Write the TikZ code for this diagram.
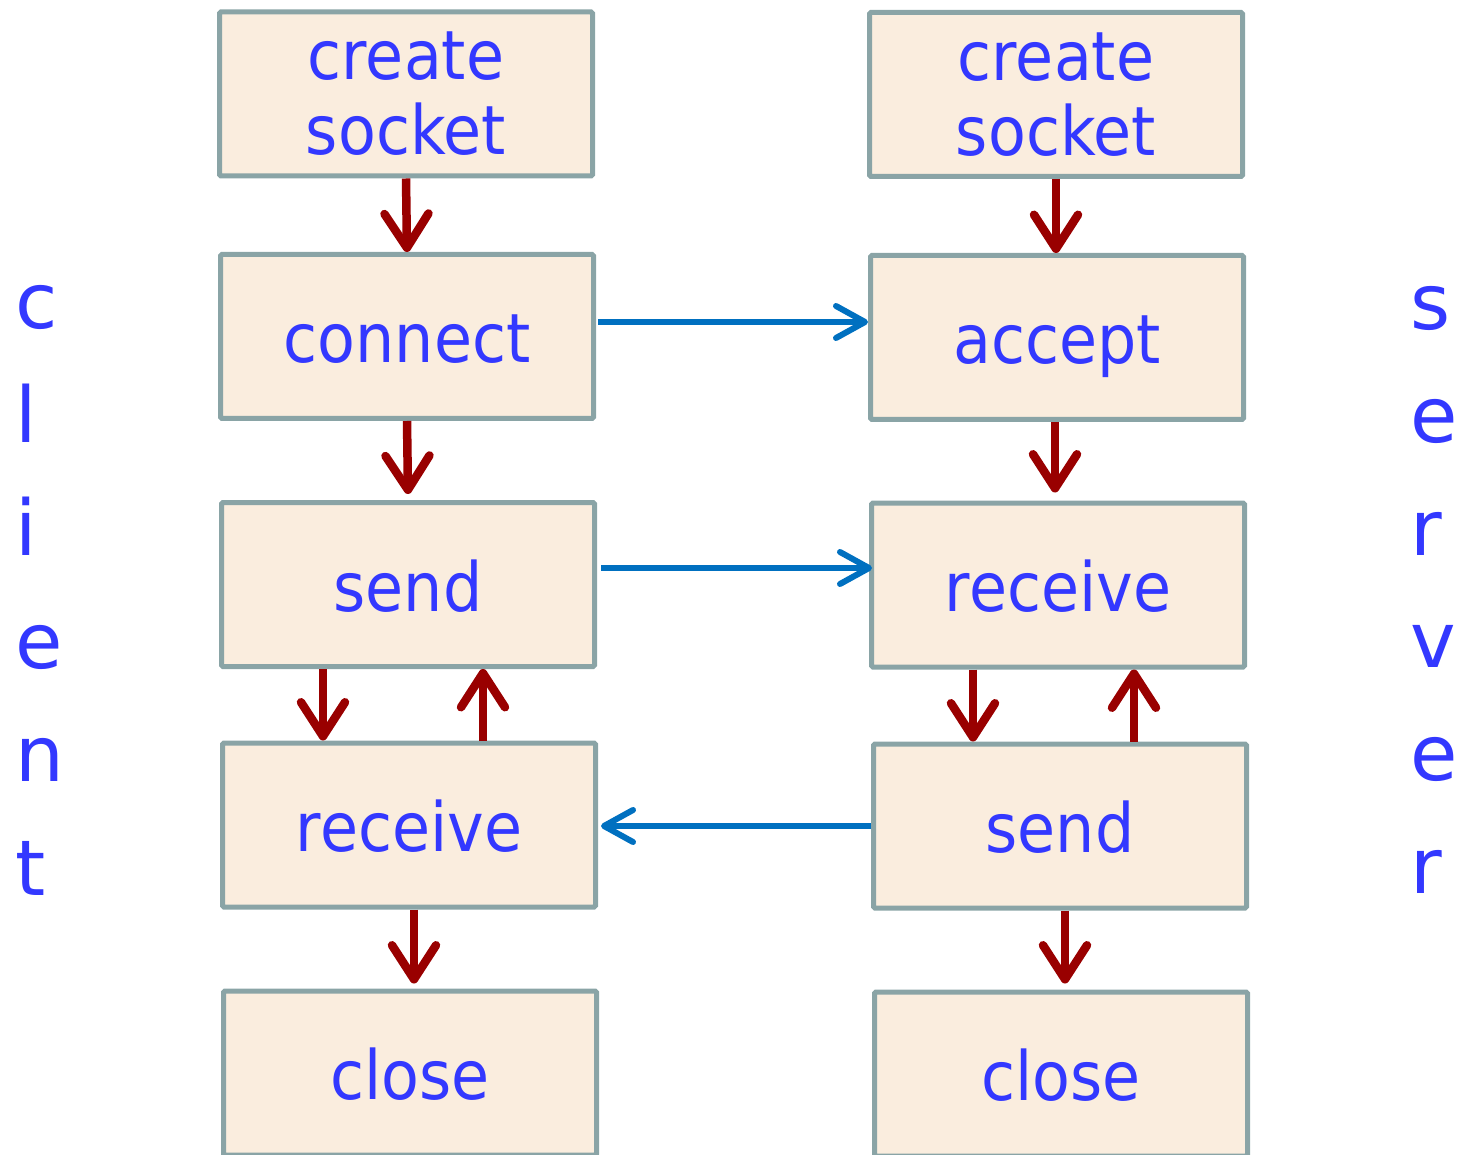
\documentclass[tikz,border=0pt]{standalone}
\usepackage{fontspec}
\setmainfont{DejaVu Sans}
\newfontfamily\boxfont{DejaVu Sans}[FakeStretch=0.91]
\usetikzlibrary{arrows.meta}
\definecolor{boxfill}{HTML}{FAEDDE}
\definecolor{boxline}{HTML}{8AA4A6}
\definecolor{labelblue}{HTML}{3338FF}
\definecolor{flowred}{HTML}{990000}
\definecolor{msgblue}{HTML}{0070C0}
\begin{document}
\begin{tikzpicture}[x=1pt,y=-1pt,
  stepbox/.style={draw=boxline, fill=boxfill, line width=5pt, rounded corners=1.5pt,
    minimum width=373pt, minimum height=164pt, inner sep=0pt, align=center,
    text=labelblue, font=\boxfont\fontsize{68}{75}\selectfont},
  onebox/.style={stepbox, text height=53pt, text depth=0pt},
  flow/.style={draw=flowred, line width=8.5pt, -{Straight Barb[length=34pt,width=44pt,round]}},
  msg/.style={draw=msgblue, line width=6pt, -{Straight Barb[length=29pt,width=32pt,round]}},
  side/.style={anchor=base west, inner sep=0pt, text=labelblue, font=\fontsize{77}{77}\selectfont}]
\useasboundingbox (0,0) rectangle (1457,1155);
\clip (0,0) rectangle (1457,1155);

% client column
\node[stepbox] (cCreate)  at (406,94)    {create\\socket};
\node[onebox]  (cConnect) at (407,336.5) {connect};
\node[onebox]  (cSend)    at (408,584.5) {send};
\node[onebox]  (cRecv)    at (409,825)   {receive};
\node[onebox]  (cClose)   at (410,1073)  {close};

% server column
\node[stepbox] (sCreate)  at (1056,94.5) {create\\socket};
\node[onebox]  (sAccept)  at (1057,337.5){accept};
\node[onebox]  (sRecv)    at (1058,585)  {receive};
\node[onebox]  (sSend)    at (1060,826)  {send};
\node[onebox]  (sClose)   at (1061,1074) {close};

% vertical side labels
\foreach \ch [count=\i from 0] in {c,l,i,e,n,t}
  \node[side] (client\i) at (15,329+113.2*\i) {\ch};
\foreach \ch [count=\i from 0] in {s,e,r,v,e,r}
  \node[side] (server\i) at (1410,330+112.6*\i) {\ch};

% control flow within each side
\draw[flow] (cCreate.south) -- (cConnect.north);
\draw[flow] (cConnect.south) -- ([yshift=6pt]cSend.north);
\draw[flow] ([xshift=-85pt]cSend.south) -- ([xshift=-85pt]cSend.south |- cRecv.north);
\draw[flow] ([xshift=74pt]cRecv.north) -- ([xshift=74pt]cRecv.north |- cSend.south);
\draw[flow] ([xshift=5pt]cRecv.south) -- ([xshift=5pt,yshift=5pt]cRecv.south |- cClose.north);

\draw[flow] (sCreate.south) -- (sCreate.south |- sAccept.north);
\draw[flow] ([xshift=-2pt]sAccept.south) -- ([xshift=-2pt,yshift=8pt]sAccept.south |- sRecv.north);
\draw[flow] ([xshift=-85pt]sRecv.south) -- ([xshift=-85pt]sRecv.south |- sSend.north);
\draw[flow] ([xshift=74pt]sSend.north) -- ([xshift=74pt]sSend.north |- sRecv.south);
\draw[flow] ([xshift=5pt]sSend.south) -- ([xshift=5pt,yshift=6pt]sSend.south |- sClose.north);

% messages between client and server
\draw[msg] ([xshift=2pt,yshift=14.5pt]cConnect.east) -- ([yshift=14.5pt]cConnect.east -| sAccept.west);
\draw[msg] ([xshift=4pt,yshift=16.5pt]cSend.east) -- ([xshift=3pt,yshift=16.5pt]cSend.east -| sRecv.west);
\draw[msg] (sSend.west) -- ([xshift=3pt]sSend.west -| cRecv.east);
\end{tikzpicture}
\end{document}
